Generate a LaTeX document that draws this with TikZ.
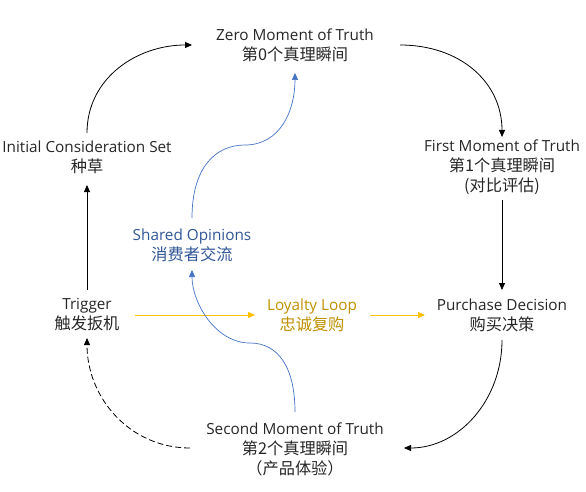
\documentclass[tikz,border=0pt]{standalone}
\usepackage{fontspec}
\setmainfont{Open Sans}
\newfontfamily\cjk[Scale=1.06]{Noto Sans CJK SC}
\usetikzlibrary{arrows.meta,calc}
\definecolor{myblue}{HTML}{4472C4}
\definecolor{darkblue}{HTML}{2F5597}
\definecolor{gold}{HTML}{FFC000}
\definecolor{darkgold}{HTML}{BF9000}
\tikzset{
  lbl/.style={align=center,inner sep=0pt,font=\fontsize{15.3}{20}\selectfont,text=black!85},
  conn/.style={line width=0.8pt,-{Triangle[length=7pt,width=6pt]}},
  bconn/.style={conn,draw=myblue,line width=0.7pt},
  yconn/.style={conn,draw=gold,line width=0.9pt},
}
\begin{document}
\begin{tikzpicture}[x=1pt,y=-1pt]
\useasboundingbox (0,0) rectangle (586,492);
\node[lbl] (zero) at (295,45) {Zero Moment of Truth\\{\cjk 第0个真理瞬间}};
\node[lbl] (init) at (87,157) {Initial Consideration Set\\{\cjk 种草}};
\node[lbl] (first) at (502,167) {First Moment of Truth\\{\cjk 第1个真理瞬间}\\{\cjk (对比评估)}};
\node[lbl,text=darkblue] (shared) at (192,245) {Shared Opinions\\{\cjk 消费者交流}};
\node[lbl] (trig) at (87,315) {Trigger\\{\cjk 触发扳机}};
\node[lbl,text=darkgold] (loyal) at (312,315) {Loyalty Loop\\{\cjk 忠诚复购}};
\node[lbl] (purch) at (502,315) {Purchase Decision\\{\cjk 购买决策}};
\node[lbl] (second) at (295,449) {Second Moment of Truth\\{\cjk 第2个真理瞬间}\\{\cjk （产品体验）}};

\coordinate (initT) at ($(init)+(0,-24)$);
\coordinate (zeroW) at ($(zero)+(-103,0)$);
\coordinate (zeroE) at ($(zero)+(105,0)$);
\coordinate (firstN) at ($(first)+(0,-30)$);
\coordinate (firstS) at ($(first)+(0,33)$);
\coordinate (purchN) at ($(purch)+(0,-25)$);
\coordinate (purchS) at ($(purch)+(0,25)$);
\coordinate (secondE) at ($(second)+(109,-1)$);
\coordinate (secondW) at ($(second)+(-105,-1)$);
\coordinate (secondN) at ($(second)+(0,-37)$);
\coordinate (trigS) at ($(trig)+(0,23)$);
\coordinate (trigN) at ($(trig)+(0,-25)$);
\coordinate (trigE) at ($(trig)+(48,0)$);
\coordinate (initS) at ($(init)+(0,28)$);
\coordinate (loyalW) at ($(loyal)+(-57,0)$);
\coordinate (loyalE) at ($(loyal)+(58,0)$);
\coordinate (purchW) at ($(purch)+(-77,0)$);
\coordinate (sharedN) at ($(shared)+(0,-27)$);
\coordinate (sharedS) at ($(shared)+(0,25)$);
\coordinate (zeroS) at ($(zero)+(0,28)$);

\draw[conn] (initT) .. controls ($(initT)+(0,-55)$) and ($(zeroW)+(-55,0)$) .. (zeroW);
\draw[conn] (zeroE) .. controls ($(zeroE)+(60,0)$) and ($(firstN)+(0,-55)$) .. (firstN);
\draw[conn] (firstS) -- (purchN);
\draw[conn] (purchS) .. controls ($(purchS)+(0,60)$) and ($(secondE)+(55,0)$) .. (secondE);
\draw[conn,dashed,dash pattern=on 6pt off 3pt] (secondW) .. controls ($(secondW)+(-60,0)$) and ($(trigS)+(0,60)$) .. (trigS);
\draw[conn] (trigN) -- (initS);
\draw[yconn] (trigE) -- (loyalW);
\draw[yconn] (loyalE) -- (purchW);
\draw[bconn] (sharedN) .. controls ($(sharedN)+(0,-50)$) and (215,145) .. (245,145)
  .. controls (280,145) and ($(zeroS)+(0,38)$) .. (zeroS);
\draw[bconn] (secondN) .. controls ($(secondN)+(0,-45)$) and (278,343) .. (250,343)
  .. controls (215,343) and ($(sharedS)+(0,32)$) .. (sharedS);
\end{tikzpicture}
\end{document}
